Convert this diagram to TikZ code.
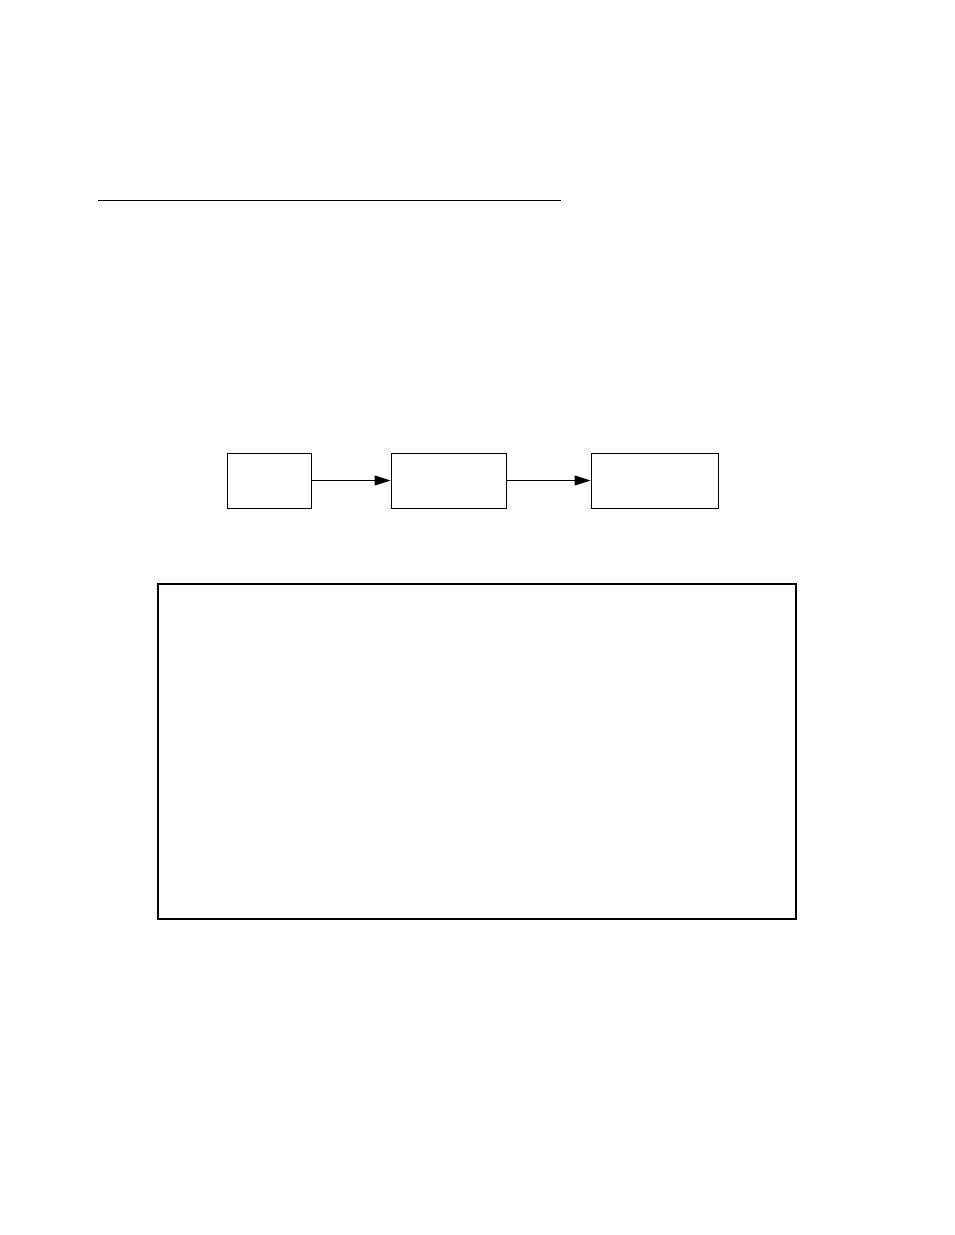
\documentclass[tikz,border=0pt]{standalone}
\usepackage{tikz}
\usetikzlibrary{arrows.meta,positioning}

\begin{document}
\begin{tikzpicture}[->,>={Triangle[length=12pt,width=7.5pt]},x=0.75pt,y=-0.75pt,
        block/.style={draw,line width=0.75pt,minimum height=41.25pt,inner sep=0pt},
        node distance=60pt]
  \useasboundingbox (0,0) rectangle (954,1235);

  \coordinate (ruleL) at (98,200);
  \coordinate (ruleR) at (561,200);
  \draw[-,line width=0.75pt] (ruleL) -- (ruleR);

  \node[block,minimum width=63pt] (src) at (269,480.5) {};
  \node[block,minimum width=86.25pt] (mid) [right=59.25pt of src] {};
  \node[block,minimum width=95.25pt] (dst) [right=63pt of mid] {};

  \path[line width=0.75pt] (src) edge (mid)
        (mid) edge (dst);

  \node[draw,line width=1pt,minimum width=478.5pt,minimum height=251.25pt,inner sep=0pt]
        (frame) at (477,751.5) {};
\end{tikzpicture}
\end{document}
